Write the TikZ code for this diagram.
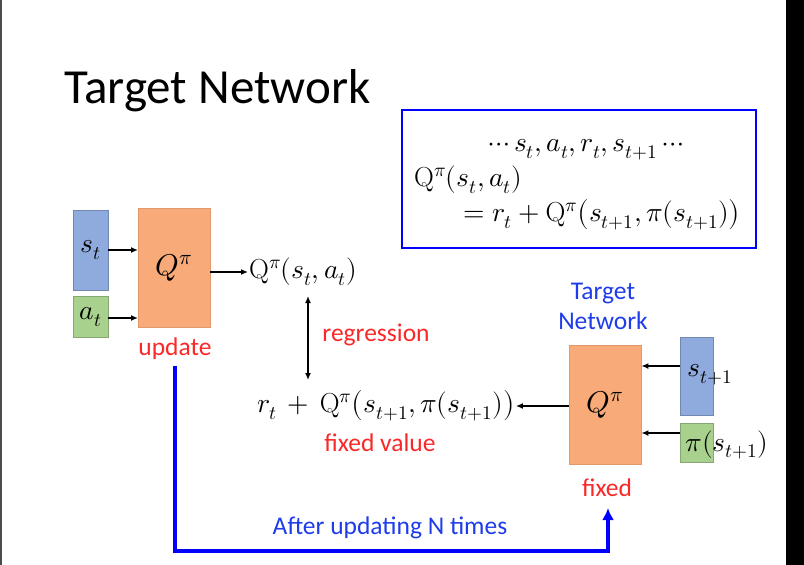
\documentclass[tikz,border=0pt]{standalone}
\usepackage{fontspec}
\usepackage{unicode-math}
\setmainfont{Carlito}
\setmathfont{Latin Modern Math}
\setmathrm{Latin Modern Roman}
\usetikzlibrary{positioning,arrows.meta}
\definecolor{boxblue}{RGB}{143,170,220}
\definecolor{boxgreen}{RGB}{169,209,142}
\definecolor{boxorange}{RGB}{248,170,120}
\definecolor{txtred}{RGB}{250,40,40}
\definecolor{txtblue}{RGB}{30,60,235}
\begin{document}
\begin{tikzpicture}[x=1pt,y=-1pt]
	\tikzstyle{inbox}=[draw=#1!80!black, fill=#1, inner sep=0pt]
	\tikzstyle{netbox}=[draw=boxorange!90!black, fill=boxorange, inner sep=0pt, minimum width=72pt, minimum height=119pt, font=\fontsize{30}{34}\selectfont]
	\tikzstyle{mth}=[font=\fontsize{27.5}{32}\selectfont, inner sep=1pt];
	\tikzstyle{redlab}=[text=txtred, font=\fontsize{25.5}{30}\selectfont, inner sep=1pt];
	\tikzstyle{bluelab}=[text=txtblue, font=\fontsize{25.5}{30}\selectfont, inner sep=1pt];
	\tikzstyle{arrow1}=[-{Latex[length=7pt,width=6pt]}, line width=1.6pt]
	\tikzstyle{arrow2}=[-{Latex[length=12pt,width=12pt]}, line width=4pt, draw=blue]
	
	\useasboundingbox (0,0) rectangle (804,565);
	\fill[white] (0,0) rectangle (804,565);
	\fill[black] (786,0) rectangle (804,565);
	\fill[black!70] (0,0) rectangle (2,565);
	
	\node [anchor=west, font=\fontsize{49}{56}\selectfont, inner sep=0pt] (title) at (64,91) {Target Network};
	
	% formula box
	\draw [blue, line width=2.5pt] (402,110) rectangle (756,248);
	\node [mth] (seq) at (586,150) {$\cdots s_t, a_t, r_t, s_{t+1} \cdots$};
	\node [mth, anchor=west] (qdef) at (413,180) {$\mathrm{Q}^\pi(s_t,a_t)$};
	\node [mth, anchor=west] (qeq) at (462,215) {$= r_t + \mathrm{Q}^\pi\bigl(s_{t+1},\pi(s_{t+1})\bigr)$};
	
	% network being updated
	\node [netbox, anchor=north west] (q) at (138,208) {$Q^\pi$};
	\node [inbox=boxblue, anchor=north west, minimum width=35pt, minimum height=80pt] (s) at (73,210) {};
	\node [mth] at (s.center) {$s_t$};
	\node [inbox=boxgreen, anchor=north west, minimum width=35pt, minimum height=41pt] (a) at (73,296) {};
	\node [mth] at (a.center) {$a_t$};
	\draw [arrow1] (s.east |- 0,250) -- (q.west |- 0,250);
	\draw [arrow1] (a.east |- 0,318) -- (q.west |- 0,318);
	\node [redlab] (upd) at (175,349) {update};
	
	\node [mth, anchor=west] (out) at (248,272) {$\mathrm{Q}^\pi(s_t,a_t)$};
	\draw [arrow1] (q.east |- out.west) -- (out.west);
	
	\node [mth] (tgt) at (386,406) {$r_t\,+\,\mathrm{Q}^\pi\bigl(s_{t+1},\pi(s_{t+1})\bigr)$};
	\draw [{Latex[length=7pt,width=6pt]}-{Latex[length=7pt,width=6pt]}, line width=1.6pt] (308,296) -- (308,380);
	\node [redlab] (reg) at (376,335) {regression};
	\node [redlab] (fv) at (380,443) {fixed value};
	
	% target network
	\node [netbox, anchor=north west] (qt) at (569,345) {$Q^\pi$};
	\node [bluelab, align=center] (tn) at (603,306) {Target\\[0pt]Network};
	\node [redlab] (fix) at (607,488) {fixed};
	\node [inbox=boxblue, anchor=north west, minimum width=33pt, minimum height=78pt] (s1) at (680,337) {};
	\node [mth] at (710,375) {$s_{t+1}$};
	\node [inbox=boxgreen, anchor=north west, minimum width=33pt, minimum height=39pt] (p1) at (680,423) {};
	\node [mth] at (727,445) {$\pi(s_{t+1})$};
	\draw [arrow1] (s1.west |- 0,366) -- (qt.east |- 0,366);
	\draw [arrow1] (p1.west |- 0,433) -- (qt.east |- 0,433);
	\draw [arrow1] (qt.west |- tgt.east) -- (tgt.east);
	
	% copy path
	\coordinate (c1) at (175,551);
	\draw [arrow2] (175,366) -- (c1) -| (608,508);
	\node [bluelab] (after) at (390,528) {After updating N times};
\end{tikzpicture}
\end{document}
